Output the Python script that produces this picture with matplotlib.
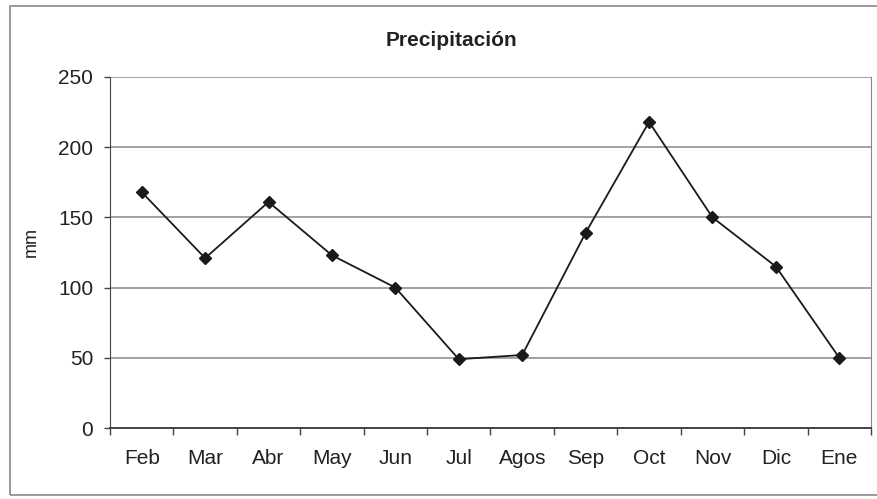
import matplotlib
matplotlib.use("Agg")
import matplotlib.pyplot as plt
import numpy as np

months = ["Feb", "Mar", "Abr", "May", "Jun", "Jul", "Agos", "Sep", "Oct", "Nov", "Dic", "Ene"]
precip = [168, 121, 161, 123, 100, 49, 52, 139, 218, 150, 115, 50]
yticks = [0, 50, 100, 150, 200, 250]

plt.rcParams['font.family'] = ['Liberation Sans', 'DejaVu Sans']

fig = plt.figure(figsize=(8.78, 4.99), dpi=100)
ax = fig.add_axes([110 / 878, 71 / 499, 761 / 878, 351 / 499])

x = np.arange(len(months))
ax.plot(x, precip, color="#1a1a1a", lw=1.3, marker="D", ms=6, mfc="#1a1a1a", mec="#1a1a1a", zorder=3)

ax.set_xlim(-0.5, len(months) - 0.5)
ax.set_ylim(0, 250)
ax.set_yticks(yticks)
ax.set_yticklabels([str(v) for v in yticks], fontsize=15, color="#222222")
ax.set_xticks(x)
ax.set_xticklabels(months, fontsize=15, color="#222222")
ax.tick_params(axis="x", length=0, pad=15)
ax.set_xticks(np.arange(-0.5, len(months), 1), minor=True)
ax.tick_params(axis="x", which="minor", length=5, width=1, color="#444444", direction="out")
ax.tick_params(axis="y", length=4, width=1, color="#444444", pad=8)

ax.grid(axis="y", color="#9a9a9a", lw=1.3)
ax.set_axisbelow(True)
ax.spines["top"].set_visible(False)
ax.spines["right"].set_color("#888888")
ax.spines["left"].set_color("#444444")
ax.spines["bottom"].set_color("#444444")
ax.spines["bottom"].set_linewidth(1.4)

ax.set_ylabel("mm", fontsize=13, labelpad=11, color="#222222")
ax.yaxis.set_label_coords(-0.092, 0.53)
fig.text(451 / 878, 1 - 40 / 499, "Precipitación", ha="center", va="center",
         fontsize=15, fontweight="bold", color="#222222")

fig.patches.append(plt.Rectangle((10 / 878, 4 / 499), 1.0, 1 - 10 / 499, transform=fig.transFigure,
                                 fill=False, edgecolor="#888888", lw=1.2, clip_on=False))

fig.savefig("out.png", dpi=100)
